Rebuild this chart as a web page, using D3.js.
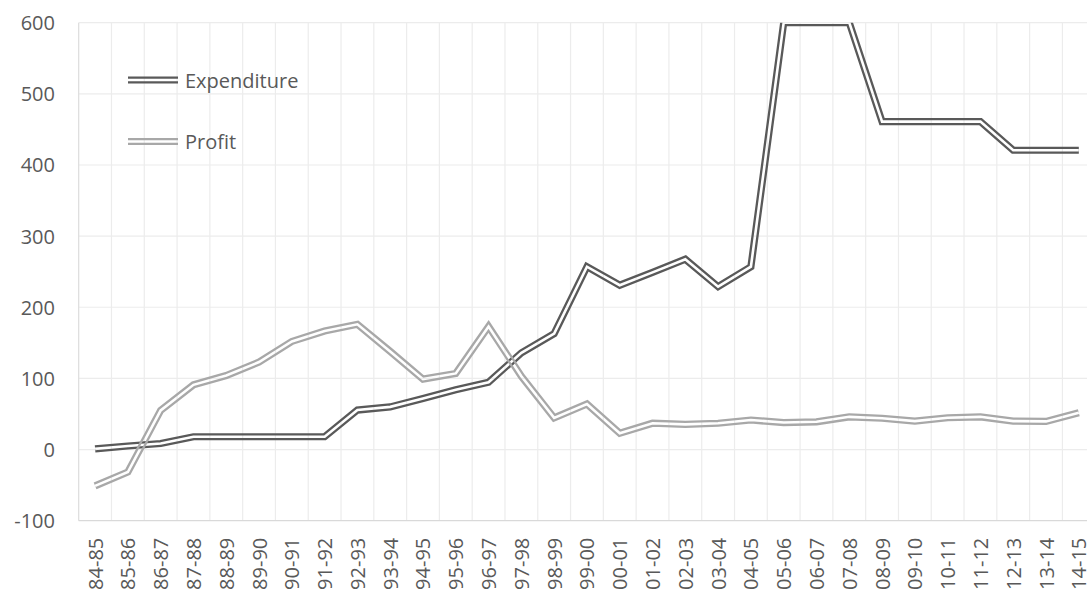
<!DOCTYPE html>
<html>
<head>
<meta charset="utf-8">
<script src="https://cdn.jsdelivr.net/npm/d3@7"></script>
<style>
  html, body { margin: 0; padding: 0; background: #fff; overflow: hidden; }
  svg { display: block; }
  text { font-family: "Open Sans", sans-serif; }
</style>
</head>
<body>
<svg id="chart" width="1087" height="594"></svg>
<script>
const categories = ["84-85","85-86","86-87","87-88","88-89","89-90","90-91","91-92","92-93","93-94",
  "94-95","95-96","96-97","97-98","98-99","99-00","00-01","01-02","02-03","03-04",
  "04-05","05-06","06-07","07-08","08-09","09-10","10-11","11-12","12-13","13-14","14-15"];
const expenditure = [1, 5, 8.5, 18, 18, 18, 18, 18, 55.5, 60,
  71.7, 84, 94.6, 136, 163, 257, 231, 249, 267.5, 229,
  257, 600, 600, 600, 461, 461, 461, 461, 420.7, 420.7, 420.7];
const profit = [-51, -31.6, 55, 91, 104, 123, 152, 166.6, 176, 138,
  99, 107, 173, 103, 44.5, 64, 23, 37, 35.4, 37,
  41.5, 38, 39, 46, 44, 40, 44.7, 46, 40, 39.6, 51.6];
const yTicks = [-100, 0, 100, 200, 300, 400, 500, 600];
const seriesNames = ["Expenditure", "Profit"];
const seriesColors = ["#595959", "#a8a8a8"];

const W = 1087, H = 594;
const plot = { left: 78.7, right: 1095.2, top: 22.7, bottom: 520.7 };
const svg = d3.select("#chart");

const x = d3.scaleBand().domain(categories).range([plot.left, plot.right]).padding(0);
const y = d3.scaleLinear().domain([-100, 600]).range([plot.bottom, plot.top]);

const defs = svg.append("defs");
defs.append("clipPath").attr("id", "plotClip")
  .append("rect").attr("x", plot.left).attr("y", plot.top)
  .attr("width", plot.right - plot.left).attr("height", plot.bottom - plot.top);

// horizontal gridlines
svg.append("g").selectAll("line").data(yTicks.filter(d => d !== -100)).join("line")
  .attr("x1", plot.left).attr("x2", plot.right)
  .attr("y1", d => y(d)).attr("y2", d => y(d))
  .attr("stroke", "#ececec").attr("stroke-width", 1.2);
// vertical gridlines (category boundaries)
svg.append("g").selectAll("line").data(categories.slice(1)).join("line")
  .attr("x1", d => x(d)).attr("x2", d => x(d))
  .attr("y1", plot.top).attr("y2", plot.bottom)
  .attr("stroke", "#ececec").attr("stroke-width", 1.2);
// axis lines
svg.append("line").attr("x1", plot.left).attr("x2", plot.left)
  .attr("y1", plot.top).attr("y2", plot.bottom).attr("stroke", "#dcdcdc").attr("stroke-width", 1.2);
svg.append("line").attr("x1", plot.left).attr("x2", plot.right)
  .attr("y1", plot.bottom).attr("y2", plot.bottom).attr("stroke", "#d9d9d9").attr("stroke-width", 1.2);

// y tick labels
svg.append("g").selectAll("text").data(yTicks).join("text")
  .attr("x", 55).attr("y", d => y(d))
  .attr("text-anchor", "end").attr("dominant-baseline", "central")
  .attr("font-size", 20).attr("fill", "#595959")
  .text(d => d);

// x tick labels (rotated)
svg.append("g").selectAll("text").data(categories).join("text")
  .attr("transform", d => `translate(${x(d) + x.bandwidth() / 2},${plot.bottom + 17}) rotate(-90)`)
  .attr("text-anchor", "end").attr("dominant-baseline", "central")
  .attr("font-size", 20).attr("fill", "#595959")
  .text(d => d);

const line = d3.line()
  .x((d, i) => x(categories[i]) + x.bandwidth() / 2)
  .y(d => y(d));

const outerW = 7.2, innerW = 2.6;
function doubleLine(parent, id, dStr, color) {
  const m = defs.append("mask").attr("id", id)
    .attr("maskUnits", "userSpaceOnUse").attr("x", 0).attr("y", 0).attr("width", W).attr("height", H);
  m.append("rect").attr("x", 0).attr("y", 0).attr("width", W).attr("height", H).attr("fill", "white");
  m.append("path").attr("d", dStr).attr("fill", "none").attr("stroke", "black")
    .attr("stroke-width", innerW).attr("stroke-linejoin", "miter").attr("stroke-miterlimit", 6);
  parent.append("path").attr("d", dStr).attr("fill", "none").attr("stroke", color)
    .attr("stroke-width", outerW).attr("stroke-linejoin", "miter").attr("stroke-miterlimit", 6)
    .attr("mask", `url(#${id})`);
}

const linesG = svg.append("g").attr("clip-path", "url(#plotClip)");
[expenditure, profit].forEach((vals, i) => {
  doubleLine(linesG, "mask" + i, line(vals), seriesColors[i]);
});

// legend
const legendYs = [80, 141.5];
seriesNames.forEach((name, i) => {
  const ly = legendYs[i];
  doubleLine(svg, "lmask" + i, `M128,${ly}L178,${ly}`, seriesColors[i]);
  svg.append("text").attr("x", 185).attr("y", ly)
    .attr("dominant-baseline", "central").attr("font-size", 20).attr("fill", "#595959")
    .text(name);
});
</script>
</body>
</html>
